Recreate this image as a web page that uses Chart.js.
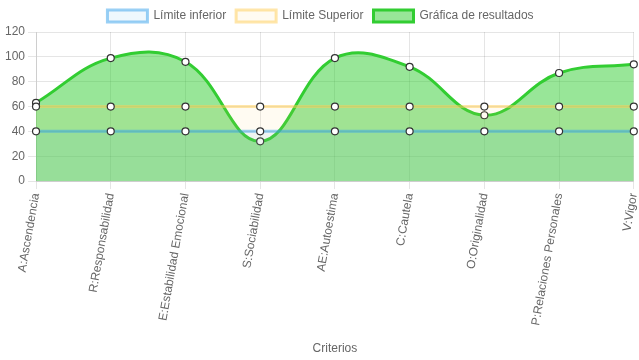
<!DOCTYPE html>
<html>
<head>
<meta charset="utf-8">
<script src="https://cdn.jsdelivr.net/npm/chart.js@4/dist/chart.umd.min.js"></script>
<style>
  body { margin: 0; background: #fff; }
  #wrap { width: 639px; height: 360px; }
</style>
</head>
<body>
<div id="wrap"><canvas id="myChart"></canvas></div>
<script>
const criterios = ['A:Ascendencia', 'R:Responsabilidad', 'E:Estabilidad Emocional', 'S:Sociabilidad',
    'AE:Autoestima', 'C:Cautela', 'O:Originalidad', 'P:Relaciones Personales', 'V:Vigor'];
const limiteInferior = [40, 40, 40, 40, 40, 40, 40, 40, 40];
const limiteSuperior = [60, 60, 60, 60, 60, 60, 60, 60, 60];
const resultados = [63, 99, 96, 32, 99, 92, 53, 87, 94];
const yTicks = [0, 20, 40, 60, 80, 100, 120];

Chart.defaults.font.family = "'Liberation Sans', Arial, sans-serif";
Chart.defaults.color = '#666';

// puntos blancos con borde oscuro en todas las series
const puntos = {
    pointRadius: 3.5,
    pointBorderWidth: 1.2,
    pointBackgroundColor: '#fff',
    pointBorderColor: '#333'
};

const ctx = document.getElementById('myChart').getContext('2d');
const myChart = new Chart(ctx, {
    type: 'line',
    data: {
        labels: criterios,
        datasets: [{
            label: 'Límite inferior',
            data: limiteInferior,
            borderColor: 'rgba(54, 162, 235, 0.5)',
            backgroundColor: 'rgba(54, 162, 235, 0.08)',
            borderWidth: 3,
            fill: 'origin',
            ...puntos
        }, {
            label: 'Límite Superior',
            data: limiteSuperior,
            borderColor: 'rgba(255, 205, 86, 0.5)',
            backgroundColor: 'rgba(255, 205, 86, 0.08)',
            borderWidth: 3,
            fill: 'origin',
            ...puntos
        }, {
            label: 'Gráfica de resultados',
            data: resultados,
            borderColor: 'rgb(50, 205, 50)',
            backgroundColor: 'rgba(50, 205, 50, 0.5)',
            borderWidth: 3,
            fill: 'origin',
            ...puntos
        }]
    },
    options: {
        responsive: true,
        maintainAspectRatio: false,
        animation: false,
        layout: { padding: { left: 2 } },
        elements: {
            line: { tension: 0.4 }
        },
        scales: {
            x: {
                title: { display: true, text: 'Criterios', padding: { top: 12, bottom: 4 } },
                ticks: { minRotation: 80, maxRotation: 80 },
                afterFit: (scale) => { scale.paddingRight = 4; }
            },
            y: {
                min: yTicks[0],
                max: yTicks[yTicks.length - 1],
                ticks: { stepSize: 20 }
            }
        },
        plugins: {
            legend: { position: 'top' }
        }
    }
});
</script>
</body>
</html>
